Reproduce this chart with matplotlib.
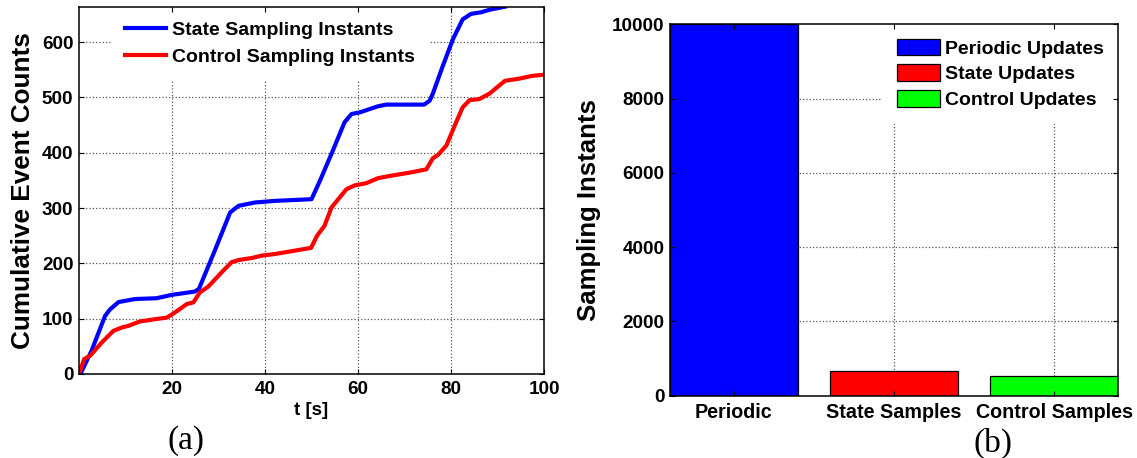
import matplotlib
matplotlib.use("Agg")
import matplotlib.pyplot as plt
from matplotlib.patches import Patch

# ---- data -------------------------------------------------------------
# cumulative state-triggered sampling events
state_t = [0.3, 2.7, 5.6, 6.7, 8.5, 12.0, 16.7, 19.9, 24.9, 25.8, 29.2, 32.5,
           34.3, 37.8, 42.2, 50.0, 51.8, 54.6, 57.1, 58.6, 60.4, 64.3, 66.1,
           74.2, 75.4, 76.1, 78.2, 80.4, 82.5, 84.3, 86.5, 88.3, 91.6]
state_n = [0, 42, 105, 117, 130, 135.5, 137, 143, 149, 154, 223, 292,
           304, 310, 313, 316, 349, 404, 455, 470, 473, 484, 487,
           487, 494, 507, 556, 605, 641, 651, 654, 658.5, 664]

# cumulative control-update events
control_t = [0.0, 1.1, 2.4, 4.9, 7.4, 9.2, 10.6, 13.1, 16.3, 18.9, 20.6, 23.2,
             24.6, 26.0, 27.8, 30.7, 32.8, 34.3, 37.1, 39.3, 42.2, 49.9, 51.2,
             52.8, 54.3, 57.5, 59.3, 61.8, 64.3, 66.8, 71.1, 74.7, 76.1, 77.2,
             79.0, 81.1, 82.5, 84.0, 86.1, 88.3, 91.6, 94.7, 97.5, 100.0]
control_n = [0, 27, 33, 57, 78, 84, 87, 95, 99, 102, 111, 126.5,
             129.5, 147.6, 158, 184, 202, 206, 209.6, 214, 217, 228, 250,
             268, 301, 334, 341, 345, 354, 358, 364, 370, 390, 396,
             413, 455, 482, 495, 497, 507, 530, 534, 539, 541]

# total sampling instants per scheme
bar_categories = ["Periodic", "State Samples", "Control Samples"]
bar_values = [10000, 660, 540]
bar_legend = ["Periodic Updates", "State Updates", "Control Updates"]
bar_colors = ["#0000ff", "#ff0000", "#00ff00"]

line_labels = ["State Sampling Instants", "Control Sampling Instants"]

# ---- style ------------------------------------------------------------
plt.rcParams["font.family"] = ["Liberation Sans", "DejaVu Sans"]
plt.rcParams["font.weight"] = "bold"
plt.rcParams["axes.labelweight"] = "bold"

W, H = 1137, 458
fig = plt.figure(figsize=(W / 100, H / 100), dpi=100)

GRID = dict(linestyle=":", color="0.35", linewidth=0.9, zorder=0.5)

def style_axes(ax, xsize):
    for s in ax.spines.values():
        s.set_linewidth(1.1)
        s.set_color("black")
        s.set_zorder(6)
    ax.set_axisbelow(False)
    ax.tick_params(direction="in", top=True, right=True, length=3.5,
                   width=0.8, colors="black")
    ax.tick_params(axis="x", pad=5, labelsize=xsize)
    ax.tick_params(axis="y", pad=4, labelsize=13.6)

def draw_grid(ax):
    # dotted grid at the tick positions, kept beneath data and legend
    x0, x1 = ax.get_xlim()
    y0, y1 = ax.get_ylim()
    for xv in ax.get_xticks():
        if x0 < xv < x1:
            ax.axvline(xv, **GRID)
    for yv in ax.get_yticks():
        if y0 < yv < y1:
            ax.axhline(yv, **GRID)

# ---- (a) cumulative event counts --------------------------------------
ax1 = fig.add_axes([79 / W, (H - 374) / H, 465 / W, 367.3 / H])
style_axes(ax1, 13.6)
ax1.plot(state_t, state_n, color="#0000ff", lw=3.0, label=line_labels[0],
         solid_joinstyle="round", zorder=3)
ax1.plot(control_t, control_n, color="#ff0000", lw=3.0, label=line_labels[1],
         solid_joinstyle="round", zorder=3)
ax1.set_xlim(0, 100)
ax1.set_ylim(0, 664)
ax1.set_xticks([20, 40, 60, 80, 100])
ax1.set_yticks(range(0, 601, 100))
draw_grid(ax1)
ax1.set_xlabel("t [s]", fontsize=13.5, va="center")
ax1.xaxis.set_label_coords(0.5, -0.1)
ax1.set_ylabel("Cumulative Event Counts", fontsize=18.8, va="center")
ax1.yaxis.set_label_coords(-0.121, 0.5)
leg1 = ax1.legend(loc="upper center", bbox_to_anchor=(0.411, 1.0),
                  borderaxespad=0, fontsize=14, frameon=True, fancybox=False,
                  framealpha=1, edgecolor="none", facecolor="white",
                  handlelength=2.1, handletextpad=0.3, borderpad=0.75,
                  labelspacing=0.47)
leg1.set_zorder(2)

# ---- (b) sampling instants per scheme ---------------------------------
ax2 = fig.add_axes([670 / W, (H - 395.7) / H, 448 / W, 371.4 / H])
style_axes(ax2, 14.2)
xpos = list(range(len(bar_categories)))
ax2.bar(xpos, bar_values, width=0.8, color=bar_colors, edgecolor="black",
        linewidth=0.9, zorder=1)
ax2.set_xlim(-0.4, 2.4)
ax2.set_ylim(0, 10000)
ax2.set_xticks(xpos)
ax2.set_xticklabels(bar_categories)
ax2.set_yticks(range(0, 10001, 2000))
draw_grid(ax2)
ax2.set_ylabel("Sampling Instants", fontsize=18.5, va="center")
ax2.yaxis.set_label_coords(-0.181, 0.5)
handles = [Patch(facecolor=c, edgecolor="black", linewidth=0.9)
           for c in bar_colors]
leg2 = ax2.legend(handles, bar_legend, loc="upper right",
                  bbox_to_anchor=(1.0, 1.0), borderaxespad=0, fontsize=14,
                  frameon=True, fancybox=False, framealpha=1,
                  edgecolor="none", facecolor="white", handlelength=2.2,
                  handleheight=0.93, handletextpad=0.25, borderpad=0.75,
                  labelspacing=0.34)
leg2.set_zorder(2)

# ---- panel captions ---------------------------------------------------
fig.text(186.4 / W, 1 - 441 / H, "(a)", family="Liberation Serif",
         fontweight="normal", fontsize=24, ha="center", va="center")
fig.text(993 / W, 1 - 443 / H, "(b)", family="Liberation Serif",
         fontweight="normal", fontsize=24, ha="center", va="center")

fig.savefig("out.png", dpi=100)
